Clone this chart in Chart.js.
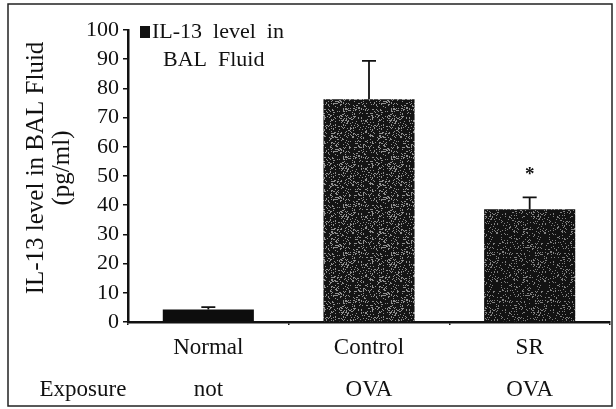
<!DOCTYPE html>
<html>
<head>
<meta charset="utf-8">
<script src="https://cdn.jsdelivr.net/npm/chart.js@4/dist/chart.umd.min.js"></script>
<style>
  html, body { margin: 0; padding: 0; background: #fff; }
  #wrap { width: 616px; height: 409px; }
</style>
</head>
<body>
<div id="wrap"><canvas id="il13Chart" width="616" height="409"></canvas></div>
<script>
// data
const groups = ["Normal", "Control", "SR"];
const exposure = ["not", "OVA", "OVA"];
const il13Level = [4.3, 76.3, 38.6];
const il13Error = [0.8, 13.1, 4.1];
const significant = [false, false, true];
const yTicks = [0, 10, 20, 30, 40, 50, 60, 70, 80, 90, 100];

const serif = "'Liberation Serif', 'DejaVu Serif', serif";
const ink = "#111";

// speckled dark fill like the scanned bars (deterministic hash, not data)
function speckle(base, dots, density) {
  const c = document.createElement("canvas");
  c.width = 48; c.height = 48;
  const g = c.getContext("2d");
  g.fillStyle = base;
  g.fillRect(0, 0, 48, 48);
  g.fillStyle = dots;
  for (let y = 0; y < 48; y++) {
    for (let x = 0; x < 48; x++) {
      const h = Math.sin(x * 12.9898 + y * 78.233) * 43758.5453;
      if (h - Math.floor(h) < density) g.fillRect(x, y, 1, 1);
    }
  }
  return g.createPattern(c, "repeat");
}
const ctx0 = document.getElementById("il13Chart").getContext("2d");
const barFills = [
  "#0d0d0d",
  speckle("#141414", "#8f8f8f", 0.2),
  speckle("#121212", "#808080", 0.15),
];

// error bars, asterisk, legend, y title, exposure row and frame
const extras = {
  id: "extras",
  afterDatasetsDraw(chart) {
    const { ctx, scales: { x, y } } = chart;
    ctx.save();
    ctx.strokeStyle = ink;
    ctx.lineWidth = 1.8;
    il13Level.forEach((v, i) => {
      const cx = x.getPixelForValue(i);
      const yTop = y.getPixelForValue(v);
      const yErr = y.getPixelForValue(v + il13Error[i]);
      ctx.beginPath();
      ctx.moveTo(cx, yTop);
      ctx.lineTo(cx, yErr);
      ctx.moveTo(cx - 7, yErr);
      ctx.lineTo(cx + 7, yErr);
      ctx.stroke();
      if (significant[i]) {
        ctx.fillStyle = ink;
        ctx.font = "bold 19px " + serif;
        ctx.textAlign = "center";
        ctx.textBaseline = "middle";
        ctx.fillText("*", cx, yErr - 22);
      }
    });
    ctx.restore();
  },
  afterDraw(chart) {
    const { ctx } = chart;
    ctx.save();
    ctx.fillStyle = ink;

    // legend
    ctx.fillRect(140, 26, 10, 12);
    ctx.font = "22px " + serif;
    ctx.textAlign = "left";
    ctx.textBaseline = "middle";
    ctx.fillText("IL-13  level  in", 152, 32);
    ctx.fillText("BAL  Fluid", 163, 60);

    // y axis title, two lines
    ctx.save();
    ctx.translate(36, 168);
    ctx.rotate(-Math.PI / 2);
    ctx.textAlign = "center";
    ctx.font = "25px " + serif;
    ctx.fillText("IL-13 level in BAL Fluid", 0, 0);
    ctx.fillText("(pg/ml)", 0, 26);
    ctx.restore();

    // exposure row label
    ctx.font = "23px " + serif;
    ctx.textAlign = "center";
    ctx.fillText("Exposure", 83, 390);

    // figure frame
    ctx.strokeStyle = "#222";
    ctx.lineWidth = 1.5;
    ctx.strokeRect(8, 4, 604, 402);
    ctx.restore();
  },
};

new Chart(ctx0, {
  type: "bar",
  data: {
    labels: groups.map((g, i) => [g, exposure[i]]),
    datasets: [
      {
        label: "IL-13 level in BAL Fluid",
        data: il13Level,
        backgroundColor: barFills,
        borderWidth: 0,
        barPercentage: 0.567,
        categoryPercentage: 1,
      },
    ],
  },
  options: {
    responsive: false,
    animation: false,
    layout: { padding: { left: 0, right: 6, top: 30, bottom: 0 } },
    plugins: {
      legend: { display: false },
      tooltip: { enabled: false },
    },
    scales: {
      x: {
        offset: true,
        border: { display: true, color: ink, width: 2.5 },
        grid: { display: true, drawOnChartArea: false, offset: true, tickLength: 3, color: ink, lineWidth: 1.5 },
        ticks: {
          color: ink,
          padding: 2,
          autoSkip: false,
          font: { family: serif, size: 23, lineHeight: 1.826 },
          maxRotation: 0,
        },
        afterFit(scale) { scale.height = 87; },
      },
      y: {
        min: 0,
        max: 100,
        afterBuildTicks(scale) { scale.ticks = yTicks.map((v) => ({ value: v })); },
        border: { display: true, color: ink, width: 2.5 },
        grid: { display: true, drawOnChartArea: false, tickLength: 5, color: ink, lineWidth: 1.5 },
        ticks: {
          color: ink,
          padding: 4,
          autoSkip: false,
          font: { family: serif, size: 22 },
        },
        afterFit(scale) { scale.width = 128; },
      },
    },
  },
  plugins: [extras],
});
</script>
</body>
</html>
